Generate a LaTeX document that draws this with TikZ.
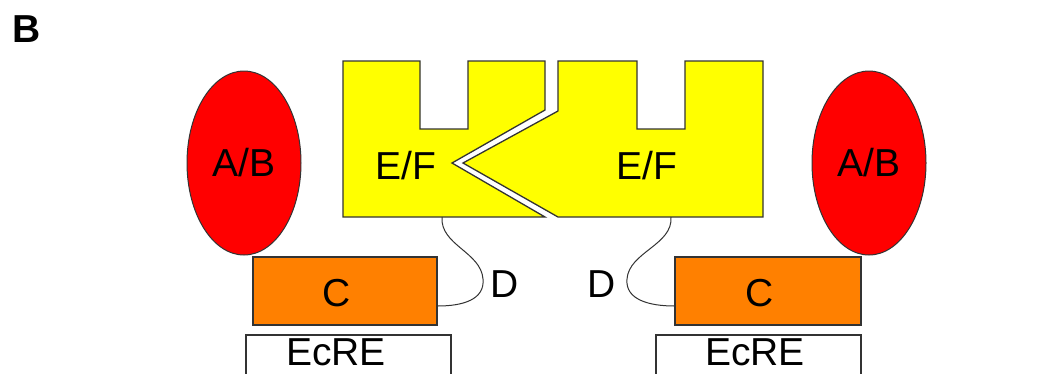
\documentclass[tikz,border=0pt]{standalone}
\usepackage{fontspec}
\setmainfont{Liberation Sans}
\usetikzlibrary{shapes.geometric}
\definecolor{ylw}{HTML}{FFFF00}
\definecolor{rd}{HTML}{FF0000}
\definecolor{orng}{HTML}{FF8000}
\definecolor{edge}{HTML}{333333}
\tikzset{
  lbl/.style={font=\fontsize{39}{39}\selectfont, inner sep=0pt, text=black},
  efshape/.style={fill=ylw, draw=edge, line width=1.3pt, line join=miter},
  ab/.style={ellipse, fill=rd, draw=edge, line width=1pt, minimum width=114pt, minimum height=184pt, inner sep=0pt, font=\fontsize{39}{39}\selectfont},
  cbox/.style={rectangle, fill=orng, draw=edge, line width=1.3pt, minimum width=184pt, minimum height=68pt, inner sep=0pt},
  ebox/.style={rectangle, fill=white, draw=edge, line width=1.3pt, inner sep=0pt},
  link/.style={draw=edge, line width=1pt}
}
\begin{document}
\begin{tikzpicture}[x=1pt,y=-1pt]
\useasboundingbox (0,0) rectangle (1063,373);
\clip (0,0) rectangle (1063,373);
% panel label
\node[lbl, font=\fontsize{39}{39}\selectfont\bfseries, anchor=center] (panel) at (26.5,29.5) {B};
% yellow E/F domains
\path[efshape] (343,61) -- (420,61) -- (420,129) -- (468,129) -- (468,61) -- (545,61) -- (545,110) -- (452,163) -- (545,217) -- (343,217) -- cycle;
\path[efshape] (558,61) -- (637,61) -- (637,129) -- (685,129) -- (685,61) -- (763,61) -- (763,217) -- (558,217) -- (463,163) -- (558,111) -- cycle;
\node[lbl] (ef1) at (406,166) {E/F};
\node[lbl] (ef2) at (647,166) {E/F};
\coordinate (d1top) at (442,217);
\coordinate (d2top) at (671,217);
% A/B
\node[ab] (ab1) at (244,163) {A/B};
\node[ab] (ab2) at (869,163) {A/B};
% C boxes
\node[cbox] (c1) at (345,291) {};
\node[lbl] (c1t) at (337,293) {C};
\node[cbox, minimum width=186pt] (c2) at (768,291) {};
\node[lbl] (c2t) at (760,293) {C};
% EcRE boxes
\path[ebox] (246,335) rectangle (451,390);
\path[ebox] (656,335) rectangle (861,390);
\node[lbl] (e1) at (336,352) {EcRE};
\node[lbl] (e2) at (755,352) {EcRE};
% D linkers
\coordinate (c1r) at (c1.east |- 0,306);
\coordinate (c2l) at (c2.west |- 0,306);
\draw[link] (d1top) .. controls (440,245) and (481,252) .. (483,279) .. controls (485,300) and (462,306) .. (c1r);
\draw[link] (d2top) .. controls (673,245) and (629,252) .. (627,279) .. controls (625,300) and (650,306) .. (c2l);
\node[lbl] (d1) at (505,284) {D};
\node[lbl] (d2) at (602,284) {D};
\end{tikzpicture}
\end{document}
